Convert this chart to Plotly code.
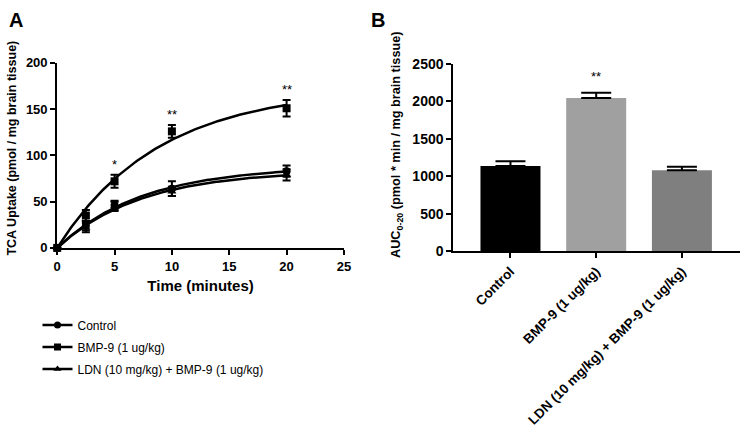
import numpy as np
import plotly.graph_objects as go

# ---------- Panel A data ----------
time_min = [0, 2.5, 5, 10, 20]
control_mean = [0, 24, 46, 64, 83]
control_sem = [0, 5, 5, 8, 6]
bmp9_mean = [0, 35, 72, 126, 151]
bmp9_sem = [0, 6, 7, 7, 9]
ldn_mean = [0, 22, 45, 61, 79]
ldn_sem = [0, 5, 5, 5, 6]
series_names = ["Control", "BMP-9 (1 ug/kg)", "LDN (10 mg/kg) + BMP-9 (1 ug/kg)"]
series_symbols = ["circle", "square", "triangle-up"]
sig_A_time = [5, 10, 20]
sig_A_label = ["*", "**", "**"]

# ---------- Panel B data ----------
auc_groups = ["Control", "BMP-9 (1 ug/kg)", "LDN (10 mg/kg) + BMP-9 (1 ug/kg)"]
auc_mean = [1138, 2044, 1081]
auc_sem = [64, 72, 48]
auc_colors = ["#000000", "#a0a0a0", "#7f7f7f"]
sig_B_label = ["", "**", ""]

W, H = 749, 439
FONT = "Liberation Sans"


def px(x):
    return x / W


def py(y):
    return 1 - y / H


def fit_one_phase(t, y):
    t = np.asarray(t, float)
    y = np.asarray(y, float)
    best = None
    for k in np.linspace(0.005, 1.5, 3000):
        f = 1 - np.exp(-k * t)
        ymax = f.dot(y) / f.dot(f)
        sse = np.sum((y - ymax * f) ** 2)
        if best is None or sse < best[0]:
            best = (sse, k, ymax)
    _, k, ymax = best
    tt = np.linspace(0, max(t), 200)
    return tt, ymax * (1 - np.exp(-k * tt))


fig = go.Figure()

means = [control_mean, bmp9_mean, ldn_mean]
sems = [control_sem, bmp9_sem, ldn_sem]
for name, sym, m, s in zip(series_names, series_symbols, means, sems):
    tt, yy = fit_one_phase(time_min, m)
    fig.add_trace(go.Scatter(x=tt, y=yy, mode="lines", line=dict(color="black", width=2.5),
                             showlegend=False, hoverinfo="skip", xaxis="x", yaxis="y",
                             cliponaxis=False))
for name, sym, m, s in zip(series_names, series_symbols, means, sems):
    fig.add_trace(go.Scatter(x=time_min, y=m, mode="markers",
                             marker=dict(symbol=sym, size=8, color="black"),
                             error_y=dict(type="data", array=s, color="black", thickness=2, width=4),
                             showlegend=False, xaxis="x", yaxis="y", cliponaxis=False))
# legend entries
for i, (name, sym) in enumerate(zip(series_names, series_symbols)):
    fig.add_trace(go.Scatter(x=[None], y=[None], mode="lines+markers", name=name,
                             legendgroup=f"g{i}",
                             line=dict(color="black", width=2.5),
                             marker=dict(symbol=sym, size=7, color="black"),
                             xaxis="x", yaxis="y"))

# Panel B bars
fig.add_trace(go.Bar(x=auc_groups, y=auc_mean, marker=dict(color=auc_colors, line=dict(width=0)),
                     width=0.70,
                     error_y=dict(type="data", symmetric=False, array=auc_sem, arrayminus=[0, 0, 0],
                                  color="black", thickness=2, width=15),
                     showlegend=False, xaxis="x2", yaxis="y2"))

annotations = []
for t, lab in zip(sig_A_time, sig_A_label):
    idx = time_min.index(t)
    annotations.append(dict(x=t, y=bmp9_mean[idx] + bmp9_sem[idx], xref="x", yref="y",
                            text=lab, showarrow=False, yanchor="bottom", yshift=1,
                            font=dict(family=FONT, size=13, color="black")))
for g, m, s, lab in zip(auc_groups, auc_mean, auc_sem, sig_B_label):
    if lab:
        annotations.append(dict(x=g, y=m + s, xref="x2", yref="y2", text=lab, showarrow=False,
                                yanchor="bottom", yshift=7,
                                font=dict(family=FONT, size=13, color="black")))

annotations.append(dict(x=px(3), y=py(12), xref="paper", yref="paper", text="<b>A</b>",
                        showarrow=False, xanchor="left", yanchor="middle",
                        font=dict(family=FONT, size=20, color="black")))
annotations.append(dict(x=px(370), y=py(12), xref="paper", yref="paper", text="<b>B</b>",
                        showarrow=False, xanchor="left", yanchor="middle",
                        font=dict(family=FONT, size=20, color="black")))
annotations.append(dict(x=px(8), y=py(145), xref="paper", yref="paper",
                        text="<b>TCA Uptake (pmol / mg brain tissue)</b>", textangle=-90,
                        showarrow=False, xanchor="center", yanchor="middle",
                        font=dict(family=FONT, size=12.5, color="black")))
annotations.append(dict(x=px(399), y=py(142), xref="paper", yref="paper",
                        text="<b>AUC<sub>0-20</sub> (pmol * min / mg brain tissue)</b>", textangle=-90,
                        showarrow=False, xanchor="center", yanchor="middle",
                        font=dict(family=FONT, size=12.7, color="black")))

axis_common = dict(showline=True, linewidth=2, linecolor="black", ticks="outside", ticklen=5,
                   tickwidth=2, tickcolor="black", showgrid=False, zeroline=False,
                   tickfont=dict(family=FONT, size=13, color="black", weight="bold"))

fig.update_layout(
    width=W, height=H,
    margin=dict(l=0, r=0, t=0, b=0),
    paper_bgcolor="white", plot_bgcolor="white",
    showlegend=True,
    legend=dict(x=px(34), y=py(314), xanchor="left", yanchor="top",
                font=dict(family=FONT, size=12, color="black"),
                tracegroupgap=3, bgcolor="rgba(0,0,0,0)"),
    xaxis=dict(domain=[px(54), px(345)], range=[0, 25], dtick=5, anchor="y",
               title=dict(text="<b>Time (minutes)</b>", font=dict(family=FONT, size=15, color="black"),
                          standoff=8),
               **axis_common),
    yaxis=dict(domain=[py(249), py(57)], range=[0, 200], dtick=50, anchor="x", **axis_common),
    xaxis2=dict(domain=[px(456), px(747)], range=[-0.667, 2.678], anchor="y2", tickangle=-45,
                **{**axis_common, "tickfont": dict(family=FONT, size=13.5, color="black", weight="bold")}),
    yaxis2=dict(domain=[py(252.5), py(58)], range=[0, 2500], dtick=500, anchor="x2",
                **{**axis_common, "tickfont": dict(family=FONT, size=14, color="black", weight="bold")}),
    annotations=annotations,
)

fig.write_html("out.html", config={"displayModeBar": False},
               post_script="document.body.style.margin='0';document.body.style.overflow='hidden';")
